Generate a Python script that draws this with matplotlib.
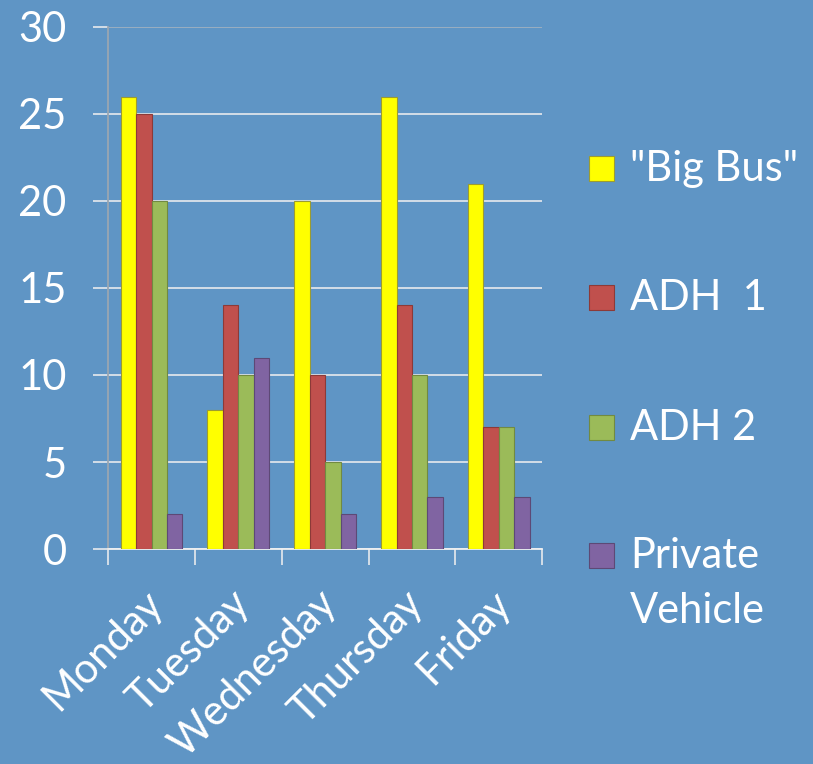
import numpy as np
import matplotlib
matplotlib.use('Agg')
import matplotlib.pyplot as plt
import matplotlib.transforms as mtransforms
from matplotlib.patches import Rectangle

days = ['Monday', 'Tuesday', 'Wednesday', 'Thursday', 'Friday']
series = ['"Big Bus"', 'ADH  1', 'ADH 2', 'Private\nVehicle']
big_bus = [26, 8, 20, 26, 21]
adh1 = [25, 14, 10, 14, 7]
adh2 = [20, 10, 5, 10, 7]
private = [2, 11, 2, 3, 3]
colors = ['#FFFF00', '#C0504D', '#9BBB59', '#8064A2']
edges = ['#9c9c30', '#8c3a38', '#718a41', '#5d4976']

bg = '#5F95C5'
plt.rcParams['font.family'] = ['Lato', 'DejaVu Sans']

W, H = 813, 764
fig = plt.figure(figsize=(W / 100, H / 100), dpi=100, facecolor=bg)
ax = fig.add_axes([0.133, 0.2814, 0.534, 0.6833])
ax.set_facecolor(bg)

x = np.arange(len(days))
w = 0.178
for i, vals in enumerate([big_bus, adh1, adh2, private]):
    ax.bar(x + (i - 1.5) * w, vals, w, color=colors[i], edgecolor=edges[i],
           linewidth=0.8, zorder=3)

ax.set_xlim(-0.5, 4.5)
ax.set_ylim(0, 30)
ax.set_yticks(range(0, 31, 5))
ax.yaxis.grid(True, color='#dde3ea', linewidth=1.3, zorder=0)
ax.get_ygridlines()[-1].set_color('#9fb0c0')
ax.tick_params(axis='y', labelcolor='white', labelsize=30, length=11, width=1.3,
               pad=19, color='#dde3ea')

ax.set_xticks(x)
ax.set_xticklabels(days, rotation=45, ha='right', rotation_mode='anchor')
ax.set_xticks(np.arange(-0.5, 5, 1), minor=True)
ax.tick_params(axis='x', which='major', length=0, labelsize=30, colors='white', pad=25)
ax.tick_params(axis='x', which='minor', length=11.5, width=1.3, color='#dde3ea')
ax.xaxis.get_minor_ticks()[0].tick1line.set_color('#9aa6b2')
# nudge the slanted day names a little to the left
shift = mtransforms.ScaledTranslation(-8 / 100, 0, fig.dpi_scale_trans)
for lbl in ax.get_xticklabels():
    lbl.set_transform(lbl.get_transform() + shift)

for s in ['top', 'right']:
    ax.spines[s].set_visible(False)
ax.spines['bottom'].set_color('#f0f0f0')
ax.spines['bottom'].set_linewidth(1.3)
ax.spines['left'].set_color('#9aa6b2')
ax.spines['left'].set_linewidth(1.3)

# legend, drawn by hand so the marker sits on the first line of each label
ys = [168, 297, 427, 555]
for i, lab in enumerate(series):
    yc = ys[i]
    fig.add_artist(Rectangle((589 / W, 1 - (yc + 12.5) / H), 25 / W, 25 / H,
                             transform=fig.transFigure, facecolor=colors[i],
                             edgecolor=edges[i], linewidth=0.8))
    for j, line in enumerate(lab.split('\n')):
        fig.text(630 / W, 1 - (yc + 13 + 55 * j) / H, line, color='white',
                 fontsize=30, va='baseline', ha='left')

fig.savefig('out.png', dpi=100, facecolor=bg)
